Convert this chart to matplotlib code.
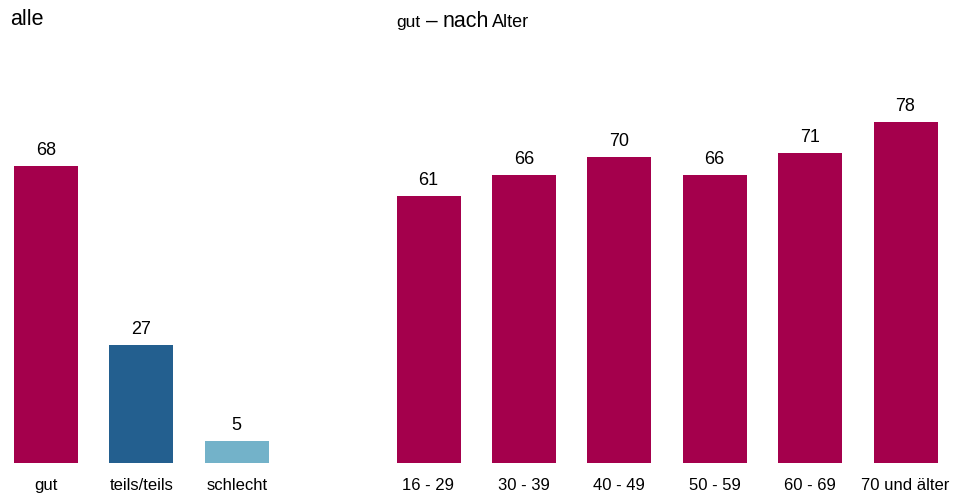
import matplotlib.pyplot as plt

plt.rcParams['font.family'] = ['Liberation Sans', 'DejaVu Sans']

# data
all_labels = ['gut', 'teils/teils', 'schlecht']
all_values = [68, 27, 5]
all_colors = ['#A4004C', '#235F8F', '#73B2C9']

age_labels = ['16 - 29', '30 - 39', '40 - 49', '50 - 59', '60 - 69', '70 und älter']
age_values = [61, 66, 70, 66, 71, 78]
age_color = '#A4004C'

W, H = 965, 495
fig = plt.figure(figsize=(W / 100, H / 100), dpi=100)

px_unit = 95.4        # pixels between bar centres
base = 463            # baseline, pixels from top
top = 60
yscale = 4.37         # pixels per percentage point


def make_axes(x0, x1, first_center):
    ax = fig.add_axes([x0 / W, (H - base) / H, (x1 - x0) / W, (base - top) / H])
    ax.set_xlim((x0 - first_center) / px_unit, (x1 - first_center) / px_unit)
    ax.set_ylim(0, (base - top) / yscale)
    for s in ax.spines.values():
        s.set_visible(False)
    ax.set_yticks([])
    ax.tick_params(axis='x', length=0, pad=11, labelsize=12)
    return ax


def draw(ax, labels, values, colors):
    xs = range(len(values))
    bars = ax.bar(xs, values, width=64 / px_unit, color=colors)
    ax.set_xticks(list(xs))
    ax.set_xticklabels(labels)
    for b, v in zip(bars, values):
        ax.annotate(str(v), (b.get_x() + b.get_width() / 2, v),
                    xytext=(0, 5), textcoords='offset points',
                    ha='center', va='bottom', fontsize=13)


ax1 = make_axes(0, 287, 46)
draw(ax1, all_labels, all_values, all_colors)

ax2 = make_axes(380, 965, 428.5)
draw(ax2, age_labels, age_values, age_color)

# panel titles
fig.text(10 / W, 1 - 25 / H, 'alle', fontsize=15.5, va='baseline')
fig.text(396 / W, 1 - 27 / H, 'gut', fontsize=12.5, va='baseline')
fig.text(426 / W, 1 - 27 / H, '–', fontsize=15, va='baseline')
fig.text(443 / W, 1 - 27 / H, 'nach', fontsize=15.5, va='baseline')
fig.text(492 / W, 1 - 27 / H, 'Alter', fontsize=13, va='baseline')

plt.savefig('out.png', dpi=100)
